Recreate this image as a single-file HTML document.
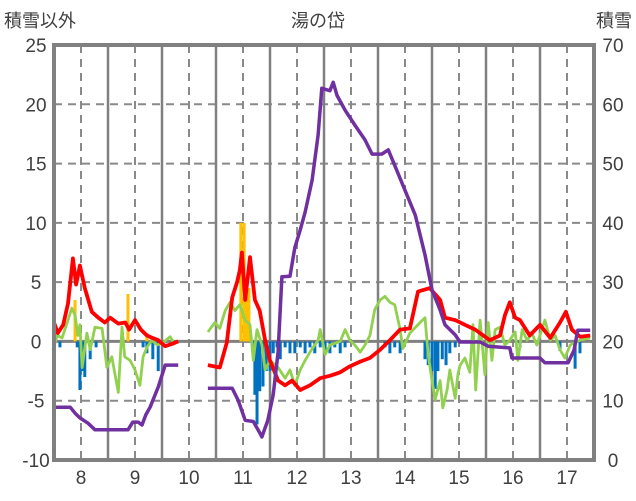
<!DOCTYPE html>
<html><head><meta charset="utf-8"><style>
body{margin:0;background:#fff;}
svg{display:block;font-family:"Liberation Sans","Noto Sans CJK JP",sans-serif;}
</style></head><body>
<svg id="chart" width="636" height="501" viewBox="0 0 636 501">
<text x="4" y="27" font-size="18" fill="#404040">積雪以外</text>
<text x="318" y="27" font-size="18" fill="#404040" text-anchor="middle">湯の岱</text>
<text x="632" y="27" font-size="18" fill="#404040" text-anchor="end">積雪</text>
<g id="grid"></g>
<g id="bars"></g>
<g id="lines"></g>
<g id="axes"></g>
</svg>
<script>
const leftTicks=[25,20,15,10,5,0,-5,-10];
const rightTicks=[70,60,50,40,30,20,10,0];
const dayLabels=[8,9,10,11,12,13,14,15,16,17];
const redDays1=[7.5,7.57,7.67,7.76,7.85,7.91,7.98,8.07,8.2,8.32,8.44,8.54,8.69,8.82,8.89,9.0,9.11,9.22,9.32,9.43,9.56,9.69,9.8];
const redVals1=[1.6,0.7,1.4,3.2,7.0,4.8,6.4,4.5,2.5,2.0,1.6,2.0,1.5,1.6,1.0,1.8,1.0,0.5,0.3,0.1,-0.4,-0.2,0.0];
const redDays2=[10.35,10.57,10.7,10.8,10.89,10.94,10.98,11.04,11.13,11.22,11.31,11.41,11.5,11.65,11.78,11.91,12.06,12.24,12.43,12.61,12.8,12.98,13.17,13.35,13.54,13.72,13.91,14.09,14.24,14.46,14.65,14.74,14.93,15.11,15.3,15.57,15.76,15.85,15.94,16.04,16.13,16.31,16.5,16.69,16.87,16.98,17.09,17.24,17.43];
const redVals2=[-2.0,-2.2,-0.1,3.7,5.0,6.0,7.5,3.5,7.1,3.5,2.6,0.1,-1.6,-3.3,-3.7,-3.3,-4.1,-3.7,-3.1,-2.9,-2.6,-2.1,-1.7,-1.4,-0.7,0.1,1.0,1.1,4.2,4.5,3.5,2.0,1.8,1.4,1.0,0.1,0.5,2.2,3.3,2.0,1.8,0.5,1.4,0.3,1.6,2.5,1.0,0.4,0.5];
const greenDays1=[7.48,7.56,7.65,7.76,7.83,7.89,7.94,7.98,8.02,8.11,8.17,8.26,8.39,8.48,8.57,8.69,8.76,8.81,8.91,9.0,9.09,9.15,9.22,9.31,9.41,9.52,9.65,9.74];
const greenVals1=[-0.7,0.5,0.3,1.8,2.8,2.2,0.5,1.4,-2.2,0.7,-0.7,1.2,1.1,-2.2,-1.3,-4.3,1.2,-1.3,-1.6,-2.4,-3.7,-1.3,-0.5,0.1,-0.3,-0.1,0.4,-0.3];
const greenDays2=[10.35,10.48,10.57,10.67,10.76,10.85,10.94,11.04,11.13,11.19,11.26,11.35,11.41,11.5,11.65,11.78,11.87,11.96,12.06,12.15,12.24,12.39,12.43,12.52,12.61,12.8,12.89,12.98,13.07,13.17,13.26,13.35,13.44,13.54,13.63,13.72,13.81,13.91,13.96,14.09,14.28,14.37,14.43,14.5,14.56,14.65,14.7,14.78,14.83,14.93,14.98,15.02,15.11,15.2,15.26,15.31,15.39,15.48,15.54,15.61,15.67,15.76,15.85,15.94,16.04,16.09,16.17,16.26,16.35,16.44,16.52,16.59,16.69,16.78,16.87,16.96,17.06,17.24,17.43];
const greenVals2=[0.8,1.6,1.1,2.6,3.3,2.6,3.1,1.8,1.4,-1.6,1.0,-0.3,-2.4,-1.6,-2.2,-3.1,-2.4,-3.7,-2.4,-1.6,-0.9,0.1,1.0,-1.1,-0.3,0,1.0,0.1,-0.3,-0.9,-0.3,0.5,2.7,3.5,3.8,3.3,3.1,1.0,-0.6,0.7,1.6,2.0,-1.1,-3.3,-4.9,-3.3,-5.6,-4.1,-2.4,-4.8,-2.8,-2.0,-1.4,-2.6,1.4,-4.1,1.8,-2.8,1.6,-1.6,1.0,1.2,-0.3,0.1,0.8,-1.6,1.0,0.1,0.7,-0.3,0.8,1.8,0.1,0.5,-0.7,-1.4,-0.3,0.1,0.3];
const snowDays1=[7.5,7.8,7.89,7.98,8.13,8.26,8.87,8.96,9.06,9.13,9.2,9.28,9.43,9.56,9.8];
const snowVals1=[8.9,8.9,7.9,7.1,6.2,5.1,5.1,6.4,6.4,5.9,7.6,8.9,12.3,16,16];
const snowDays2=[10.35,10.8,10.91,11.04,11.19,11.31,11.35,11.46,11.56,11.65,11.72,11.87,11.96,12.06,12.15,12.28,12.39,12.46,12.61,12.67,12.74,12.89,13.07,13.26,13.39,13.57,13.69,13.81,14.0,14.19,14.37,14.5,14.65,14.74,14.93,15.02,15.39,15.54,15.94,15.98,16.5,16.59,17.02,17.13,17.2,17.43];
const snowVals2=[12.1,12.1,10.1,6.7,6.5,4.6,3.9,6.7,11,18.2,30.9,31,35.8,38.8,41.8,47.2,54.8,62.7,62.3,63.7,61.5,59,56.5,54,51.6,51.6,52.3,49.7,45.5,41.3,34.6,28.7,25.3,22.8,21.1,19.9,19.9,19.2,18.9,17.2,17.2,16.4,16.4,18.5,21.9,21.9];
const blueDays=[7.61,7.93,7.98,8.04,8.07,8.17,8.28,9.15,9.22,9.33,9.43,11.22,11.26,11.31,11.37,11.43,11.5,11.56,11.63,11.69,11.78,11.87,11.96,12.06,12.15,12.24,12.33,12.43,12.52,12.61,12.7,12.8,12.89,13.63,13.72,13.81,13.91,14.37,14.43,14.5,14.56,14.61,14.69,14.76,14.83,14.93,16.13,16.87,17.15,17.24];
const blueVals=[-0.5,-0.5,-4.1,-2.5,-3.0,-1.5,-0.5,-0.5,-1.0,-1.5,-2.5,-4.5,-7.0,-4.2,-3.8,-2.5,-2.5,-1.0,-0.5,-1.5,-0.5,-1.0,-1.0,-0.5,-1.0,-0.5,-1.0,-0.5,-1.0,-1.0,-0.5,-1.0,-0.5,-0.5,-1.0,-0.5,-1.0,-1.5,-2.0,-2.5,-4.0,-2.5,-1.5,-2.0,-1.0,-0.5,-0.5,-0.8,-2.3,-1.0];
const orangeDays=[7.89,8.87,9.22,10.96,11.02,11.07,11.11];
const orangeVals=[3.5,4.0,0.7,10.0,10.0,4.5,4.5];

const L=54,R=594,T=45,B=460;
const x=d=>L+(d-7.5)*(R-L)/10;
const yL=v=>T+(25-v)*(B-T)/35;
const yR=v=>T+(70-v)*(B-T)/70;
const NS='http://www.w3.org/2000/svg';
function mk(tag,parent,attrs){const e=document.createElementNS(NS,tag);for(const k in attrs)e.setAttribute(k,attrs[k]);parent.appendChild(e);return e;}
const grid=document.getElementById('grid'),bars=document.getElementById('bars'),lines=document.getElementById('lines'),axes=document.getElementById('axes');
leftTicks.forEach(v=>{
 if(v!==25&&v!==-10&&v!==0){const g=mk('line',grid,{x1:L,x2:R,y1:yL(v),y2:yL(v),stroke:'#8a8a8a','stroke-width':2,'stroke-dasharray':'8,6'});
 
 }
 const t=mk('text',axes,{x:36,y:yL(v)+7,'font-size':19,fill:'#404040','text-anchor':'middle'});t.textContent=v;
 
 
});
rightTicks.forEach(v=>{const t=mk('text',axes,{x:613,y:yR(v)+7,'font-size':19,fill:'#404040','text-anchor':'middle'});t.textContent=v;
 
 });
dayLabels.forEach(d=>{
 const g=mk('line',grid,{x1:x(d),x2:x(d),y1:T,y2:B,stroke:'#8a8a8a','stroke-width':2,'stroke-dasharray':'8,6'});
 
 
 if(d<17){const s=mk('line',grid,{x1:x(d+0.5),x2:x(d+0.5),y1:T,y2:B,stroke:'#808080','stroke-width':2.5});
 
 }
 const t=mk('text',axes,{x:x(d),y:484,'font-size':19,fill:'#404040','text-anchor':'middle'});t.textContent=d;
 
 
});
blueDays.forEach((d,i)=>{const r=mk('rect',bars,{x:x(d)-1.5,y:yL(0),width:3,height:yL(blueVals[i])-yL(0),fill:'#0070c0'});
 
 });
orangeDays.forEach((d,i)=>{const r=mk('rect',bars,{x:x(d)-1.5,y:yL(orangeVals[i]),width:3,height:yL(0)-yL(orangeVals[i]),fill:'#ffc000'});
 
 });
const zl=mk('line',grid,{x1:L,x2:R,y1:yL(0),y2:yL(0),stroke:'#808080','stroke-width':3});


function path(days,vals,yf,color,w,name){const d=days.map((dd,i)=>(i?'L':'M')+x(dd).toFixed(1)+','+yf(vals[i]).toFixed(1)).join('');
 const p=mk('path',lines,{d:d,fill:'none',stroke:color,'stroke-width':w,'stroke-linejoin':'round'});
 
 }
path(greenDays1,greenVals1,yL,'#92d050',2.8,'green-series');
path(greenDays2,greenVals2,yL,'#92d050',2.8,'green-series');
path(redDays1,redVals1,yL,'#ff0000',3.8,'red-series');
path(redDays2,redVals2,yL,'#ff0000',3.8,'red-series');
path(snowDays1,snowVals1,yR,'#7030a0',3.5,'snow-depth-series');
path(snowDays2,snowVals2,yR,'#7030a0',3.5,'snow-depth-series');
const b=mk('rect',axes,{x:L,y:T,width:R-L,height:B-T,fill:'none',stroke:'#808080','stroke-width':4});


</script>
</body></html>
